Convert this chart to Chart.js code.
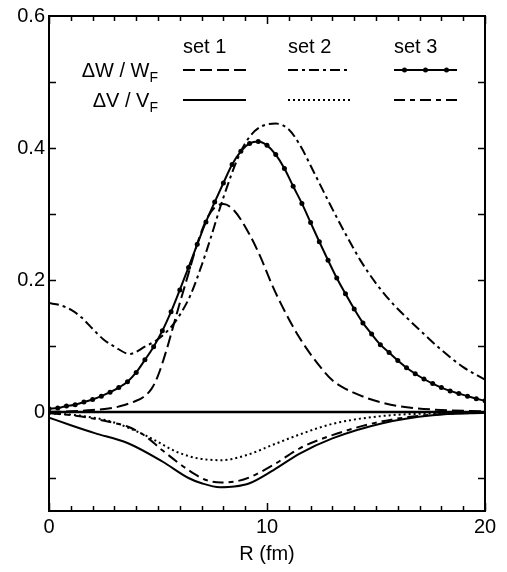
<!DOCTYPE html>
<html>
<head>
<meta charset="utf-8">
<script src="https://cdn.jsdelivr.net/npm/chart.js@4.4.1/dist/chart.umd.min.js"></script>
<style>
  html, body { margin: 0; padding: 0; background: #fff; }
  #wrap { width: 507px; height: 572px; }
</style>
</head>
<body>
<div id="wrap"><canvas id="chart"></canvas></div>
<script>
// values, R in fm
const set1W_R = [0, 1, 2, 2.9, 3.5, 4, 4.3, 4.7, 5, 5.4, 5.7, 6.0, 6.4, 6.8, 7.2, 7.6, 8.0, 8.5, 9.2, 9.7, 10.2, 10.7, 11.5, 12.5, 13, 13.5, 14, 14.6, 15.3, 16, 18, 20];
const set1W = [0.0, 0.001, 0.003, 0.006, 0.011, 0.017, 0.022, 0.035, 0.055, 0.095, 0.13, 0.165, 0.21, 0.255, 0.29, 0.31, 0.315, 0.305, 0.269, 0.235, 0.195, 0.16, 0.112, 0.066, 0.048, 0.037, 0.029, 0.021, 0.014, 0.009, 0.003, 0.001];

const set2W_R = [0, 0.5, 1, 1.5, 2, 2.5, 3, 3.7, 4.45, 4.9, 5.5, 6, 6.5, 7, 7.4, 8, 8.76, 9.2, 9.7, 10.4, 11, 11.5, 12.2, 12.9, 13.6, 14.3, 15, 15.8, 16.5, 17.3, 18, 19, 20];
const set2W = [0.165, 0.162, 0.155, 0.143, 0.126, 0.11, 0.099, 0.088, 0.1, 0.108, 0.125, 0.147, 0.178, 0.222, 0.262, 0.325, 0.392, 0.417, 0.432, 0.437, 0.428, 0.405, 0.36, 0.314, 0.27, 0.229, 0.195, 0.163, 0.14, 0.115, 0.094, 0.068, 0.049];

const set3W_R = [0, 0.4, 0.8, 1.2, 1.6, 2.0, 2.4, 2.8, 3.2, 3.6, 4.0, 4.4, 4.8, 5.2, 5.6, 6.0, 6.4, 6.8, 7.2, 7.6, 8.0, 8.4, 8.8, 9.2, 9.6, 10.0, 10.4, 10.8, 11.2, 11.6, 12.0, 12.4, 12.8, 13.2, 13.6, 14.0, 14.4, 14.8, 15.2, 15.6, 16.0, 16.4, 16.8, 17.2, 17.6, 18.0, 18.4, 18.8, 19.2, 19.6, 20.0];
const set3W = [0.005, 0.006, 0.009, 0.011, 0.015, 0.019, 0.024, 0.030, 0.037, 0.046, 0.060, 0.079, 0.099, 0.123, 0.152, 0.185, 0.219, 0.254, 0.288, 0.318, 0.347, 0.375, 0.395, 0.407, 0.410, 0.404, 0.390, 0.369, 0.342, 0.316, 0.287, 0.258, 0.230, 0.203, 0.179, 0.156, 0.135, 0.118, 0.102, 0.090, 0.078, 0.067, 0.058, 0.050, 0.043, 0.037, 0.032, 0.028, 0.024, 0.020, 0.017];

const set1V_R = [0, 1, 2.1, 3.6, 5.2, 6.4, 7.0, 7.85, 8.5, 9.2, 10.3, 11.5, 13, 15.3, 17.6, 20];
const set1V = [-0.0085, -0.02, -0.032, -0.047, -0.075, -0.1, -0.108, -0.114, -0.113, -0.108, -0.088, -0.063, -0.04, -0.017, -0.005, -0.001];

const set2V_R = [0, 1.3, 2.9, 4.4, 5.9, 6.8, 7.9, 9, 10.4, 11.5, 13, 15.3, 17.6, 20];
const set2V = [-0.002, -0.005, -0.015, -0.035, -0.061, -0.07, -0.073, -0.066, -0.048, -0.034, -0.018, -0.006, -0.002, 0];

const set3V_R = [0, 1.3, 2.9, 3.6, 4.4, 5.2, 6.4, 7.2, 7.9, 8.6, 9.2, 10.3, 11.5, 13, 15.3, 17.6, 20];
const set3V = [-0.002, -0.006, -0.016, -0.022, -0.036, -0.058, -0.088, -0.103, -0.107, -0.105, -0.099, -0.08, -0.055, -0.035, -0.014, -0.004, -0.001];

const zero_R = [0, 20];
const zero = [0, 0];

const xTicks = [0, 10, 20];
const yTicks = [0, 0.2, 0.4, 0.6];
const xMinor = [0, 1, 2, 3, 4, 5, 6, 7, 8, 9, 10, 11, 12, 13, 14, 15, 16, 17, 18, 19, 20];
const yMinor = [-0.1, 0, 0.1, 0.2, 0.3, 0.4, 0.5];

const legendCols = ['set 1', 'set 2', 'set 3'];
const legendRows = [['\u0394W / W', 'F'], ['\u0394V / V', 'F']];

const FONT = '"Liberation Sans", Arial, Helvetica, sans-serif';

function pts(xs, ys) {
    return xs.map((x, i) => ({ x: x, y: ys[i] }));
}

function line(data, dash, extra) {
    return Object.assign({
        data: data,
        borderColor: '#000',
        backgroundColor: '#000',
        borderWidth: 2,
        borderDash: dash,
        pointRadius: 0,
        fill: false,
        cubicInterpolationMode: 'monotone'
    }, extra || {});
}

const styles = {
    set1W: [12, 5],
    set2W: [10, 4, 3, 4],
    set2V: [2, 3],
    set3V: [11, 5, 5, 5]
};

// frame plus inward ticks on all four sides
const frameTicks = {
    id: 'frameTicks',
    afterDatasetsDraw(chart) {
        const { ctx, chartArea: a, scales } = chart;
        const xs = scales.x, ys = scales.y;
        ctx.save();
        ctx.strokeStyle = '#000';
        ctx.lineWidth = 2;
        ctx.setLineDash([]);
        ctx.strokeRect(a.left, a.top, a.right - a.left, a.bottom - a.top);
        ctx.lineWidth = 1.5;
        ctx.beginPath();
        xMinor.forEach(v => {
            const px = Math.round(xs.getPixelForValue(v)) + 0.5;
            const len = v % 10 === 0 ? 8 : 5;
            ctx.moveTo(px, a.bottom); ctx.lineTo(px, a.bottom - len);
            ctx.moveTo(px, a.top); ctx.lineTo(px, a.top + len);
        });
        yMinor.forEach(v => {
            const py = Math.round(ys.getPixelForValue(v)) + 0.5;
            ctx.moveTo(a.left, py); ctx.lineTo(a.left + 7, py);
            ctx.moveTo(a.right, py); ctx.lineTo(a.right - 7, py);
        });
        ctx.stroke();
        ctx.restore();
    }
};

// the set / row legend in the upper left
const tableLegend = {
    id: 'tableLegend',
    afterDraw(chart) {
        const ctx = chart.ctx;
        const colX = [183, 288, 394];
        const colW = 63;
        const rowY = [70, 100];
        ctx.save();
        ctx.fillStyle = '#000';
        ctx.textBaseline = 'alphabetic';
        ctx.font = '20px ' + FONT;
        ctx.textAlign = 'left';
        legendCols.forEach((t, i) => ctx.fillText(t, colX[i], 53));

        legendRows.forEach((r, i) => {
            ctx.font = '14px ' + FONT;
            const wSub = ctx.measureText(r[1]).width;
            ctx.textAlign = 'left';
            ctx.fillText(r[1], 158 - wSub, rowY[i] + 12);
            ctx.font = '20px ' + FONT;
            ctx.textAlign = 'right';
            ctx.fillText(r[0], 158 - wSub, rowY[i] + 7);
        });

        const samples = [
            [styles.set1W, styles.set2W, []],
            [[], styles.set2V, styles.set3V]
        ];
        ctx.strokeStyle = '#000';
        ctx.lineWidth = 2;
        samples.forEach((row, ri) => {
            row.forEach((dash, ci) => {
                ctx.setLineDash(dash);
                ctx.beginPath();
                ctx.moveTo(colX[ci], rowY[ri]);
                ctx.lineTo(colX[ci] + colW, rowY[ri]);
                ctx.stroke();
            });
        });
        ctx.setLineDash([]);
        [1 / 6, 1 / 2, 5 / 6].forEach(f => {
            ctx.beginPath();
            ctx.arc(colX[2] + colW * f, rowY[0], 2.5, 0, Math.PI * 2);
            ctx.fill();
        });
        ctx.restore();
    }
};

new Chart(document.getElementById('chart'), {
    type: 'line',
    data: {
        datasets: [
            line(pts(zero_R, zero), [], { borderWidth: 2.5, cubicInterpolationMode: 'default' }),
            line(pts(set1V_R, set1V), []),
            line(pts(set2V_R, set2V), styles.set2V),
            line(pts(set3V_R, set3V), styles.set3V),
            line(pts(set1W_R, set1W), styles.set1W),
            line(pts(set2W_R, set2W), styles.set2W),
            line(pts(set3W_R, set3W), [], { pointRadius: 2.5, pointBorderWidth: 0 })
        ]
    },
    options: {
        responsive: true,
        maintainAspectRatio: false,
        animation: false,
        devicePixelRatio: 1,
        layout: { padding: { top: 14, right: 22, left: 0, bottom: 0 } },
        plugins: {
            legend: { display: false },
            tooltip: { enabled: false }
        },
        scales: {
            x: {
                type: 'linear',
                min: 0,
                max: 20,
                grid: { display: false, drawTicks: false },
                border: { display: false },
                afterBuildTicks: s => { s.ticks = xTicks.map(v => ({ value: v })); },
                afterFit: s => { s.height = 61; },
                ticks: {
                    color: '#000',
                    padding: 4,
                    maxRotation: 0,
                    font: { family: FONT, size: 20 },
                    callback: v => String(v)
                },
                title: {
                    display: true,
                    text: 'R (fm)',
                    color: '#000',
                    font: { family: FONT, size: 20 },
                    padding: { top: 0, bottom: 6 }
                }
            },
            y: {
                type: 'linear',
                min: -0.15,
                max: 0.6,
                grid: { display: false, drawTicks: false },
                border: { display: false },
                afterBuildTicks: s => { s.ticks = yTicks.map(v => ({ value: v })); },
                afterFit: s => { s.width = 49; },
                ticks: {
                    color: '#000',
                    padding: 4,
                    font: { family: FONT, size: 20 },
                    callback: v => (v === 0 ? '0' : v.toFixed(1))
                }
            }
        }
    },
    plugins: [frameTicks, tableLegend]
});
</script>
</body>
</html>
